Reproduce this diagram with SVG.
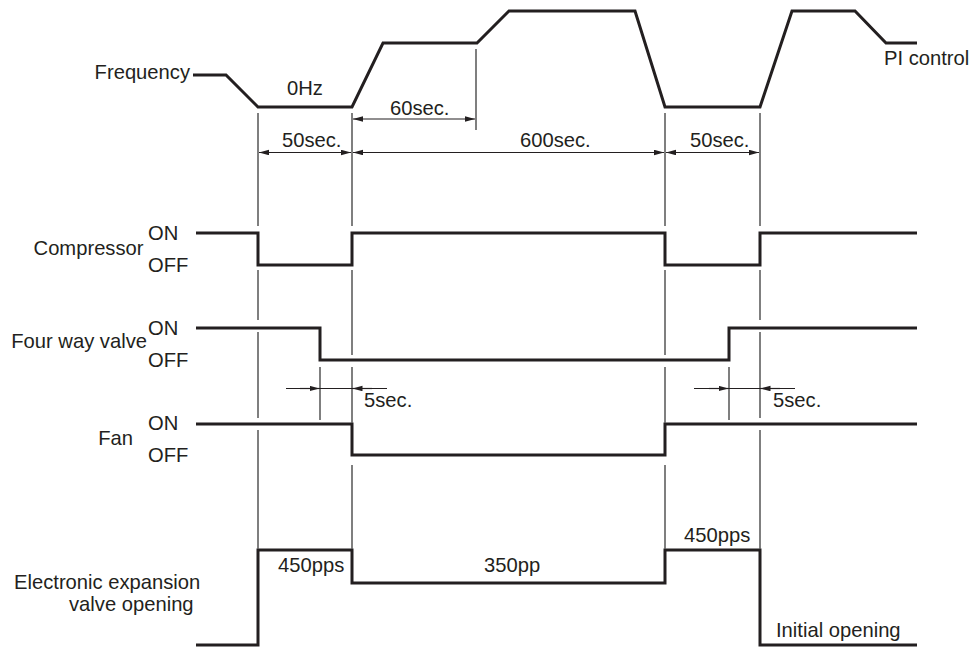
<svg xmlns="http://www.w3.org/2000/svg" width="972" height="648" viewBox="0 0 972 648">
<style>
text{font-family:"Liberation Sans",Arial,sans-serif;font-size:20.2px;fill:#231f20}
.sig{fill:none;stroke:#231f20;stroke-width:3;stroke-linejoin:miter}
.grid{fill:none;stroke:#555;stroke-width:1.5}
.dim{fill:none;stroke:#231f20;stroke-width:1.2}
</style>
<defs>
<marker id="ah" markerUnits="userSpaceOnUse" markerWidth="11" markerHeight="6" refX="10" refY="2.75" orient="auto-start-reverse">
<path d="M0,0 L10,2.75 L0,5.5 z" fill="#231f20"/>
</marker>
</defs>
<rect width="972" height="648" fill="#fff"/>

<g id="frequency">
<polyline class="sig" points="193,75 226,75 258,107 352,107 383,43 477,43 509,11 635,11 665,107 760,107 792,11 855,11 886,43 917,43"/>
<text x="190" y="79" text-anchor="end">Frequency</text>
<text x="287" y="94.5">0Hz</text>
<text x="884" y="65">PI control</text>
</g>

<g id="compressor">
<polyline class="sig" points="196,233 258,233 258,265 352,265 352,233 665,233 665,265 760,265 760,233 917,233"/>
<text x="143.5" y="255" text-anchor="end">Compressor</text>
<text x="148" y="240">ON</text>
<text x="148" y="272">OFF</text>
</g>

<g id="four-way-valve">
<polyline class="sig" points="196,328 320,328 320,360 729,360 729,328 917,328"/>
<text x="147" y="348" text-anchor="end">Four way valve</text>
<text x="148" y="334.5">ON</text>
<text x="148" y="367">OFF</text>
</g>

<g id="fan">
<polyline class="sig" points="196,424 352,424 352,455 665,455 665,424 917,424"/>
<text x="133" y="445" text-anchor="end">Fan</text>
<text x="148" y="430">ON</text>
<text x="148" y="462">OFF</text>
</g>

<g id="expansion-valve">
<polyline class="sig" points="196,645 258,645 258,550 352,550 352,583 665,583 665,550 760,550 760,645 917,645"/>
<text x="14" y="589">Electronic expansion</text>
<text x="69" y="611">valve opening</text>
<text x="278" y="571.5">450pps</text>
<text x="484" y="571.5">350pp</text>
<text x="684" y="541.5">450pps</text>
<text x="776" y="636.5">Initial opening</text>
</g>

<g id="connectors">
<path class="grid" d="M258,113V226M258,270V320M258,332V418M258,430V549
M352,113V226M352,270V355M352,367V423M352,465V549
M665,113V226M665,270V355M665,367V423M665,465V549
M760,113V226M760,270V320M760,332V418M760,430V549
M476,49V130M320,367V420M729,367V420"/>
<line class="dim" x1="259" y1="152.5" x2="351" y2="152.5" marker-start="url(#ah)" marker-end="url(#ah)"/>
<line class="dim" x1="353" y1="152.5" x2="664" y2="152.5" marker-start="url(#ah)" marker-end="url(#ah)"/>
<line class="dim" x1="666" y1="152.5" x2="759" y2="152.5" marker-start="url(#ah)" marker-end="url(#ah)"/>
<line class="dim" x1="353" y1="119" x2="475" y2="119" marker-start="url(#ah)" marker-end="url(#ah)"/>
<line class="dim" x1="286" y1="388.5" x2="387" y2="388.5"/>
<line class="dim" x1="300" y1="388.5" x2="319.5" y2="388.5" marker-end="url(#ah)"/>
<line class="dim" x1="372" y1="388.5" x2="352.5" y2="388.5" marker-end="url(#ah)"/>
<line class="dim" x1="694" y1="388.5" x2="795" y2="388.5"/>
<line class="dim" x1="709" y1="388.5" x2="728.5" y2="388.5" marker-end="url(#ah)"/>
<line class="dim" x1="780" y1="388.5" x2="760.5" y2="388.5" marker-end="url(#ah)"/>
<text x="282" y="146.5">50sec.</text>
<text x="390" y="115">60sec.</text>
<text x="520" y="146.5">600sec.</text>
<text x="690" y="146.5">50sec.</text>
<text x="364" y="406.5">5sec.</text>
<text x="773" y="406.5">5sec.</text>
</g>
</svg>
